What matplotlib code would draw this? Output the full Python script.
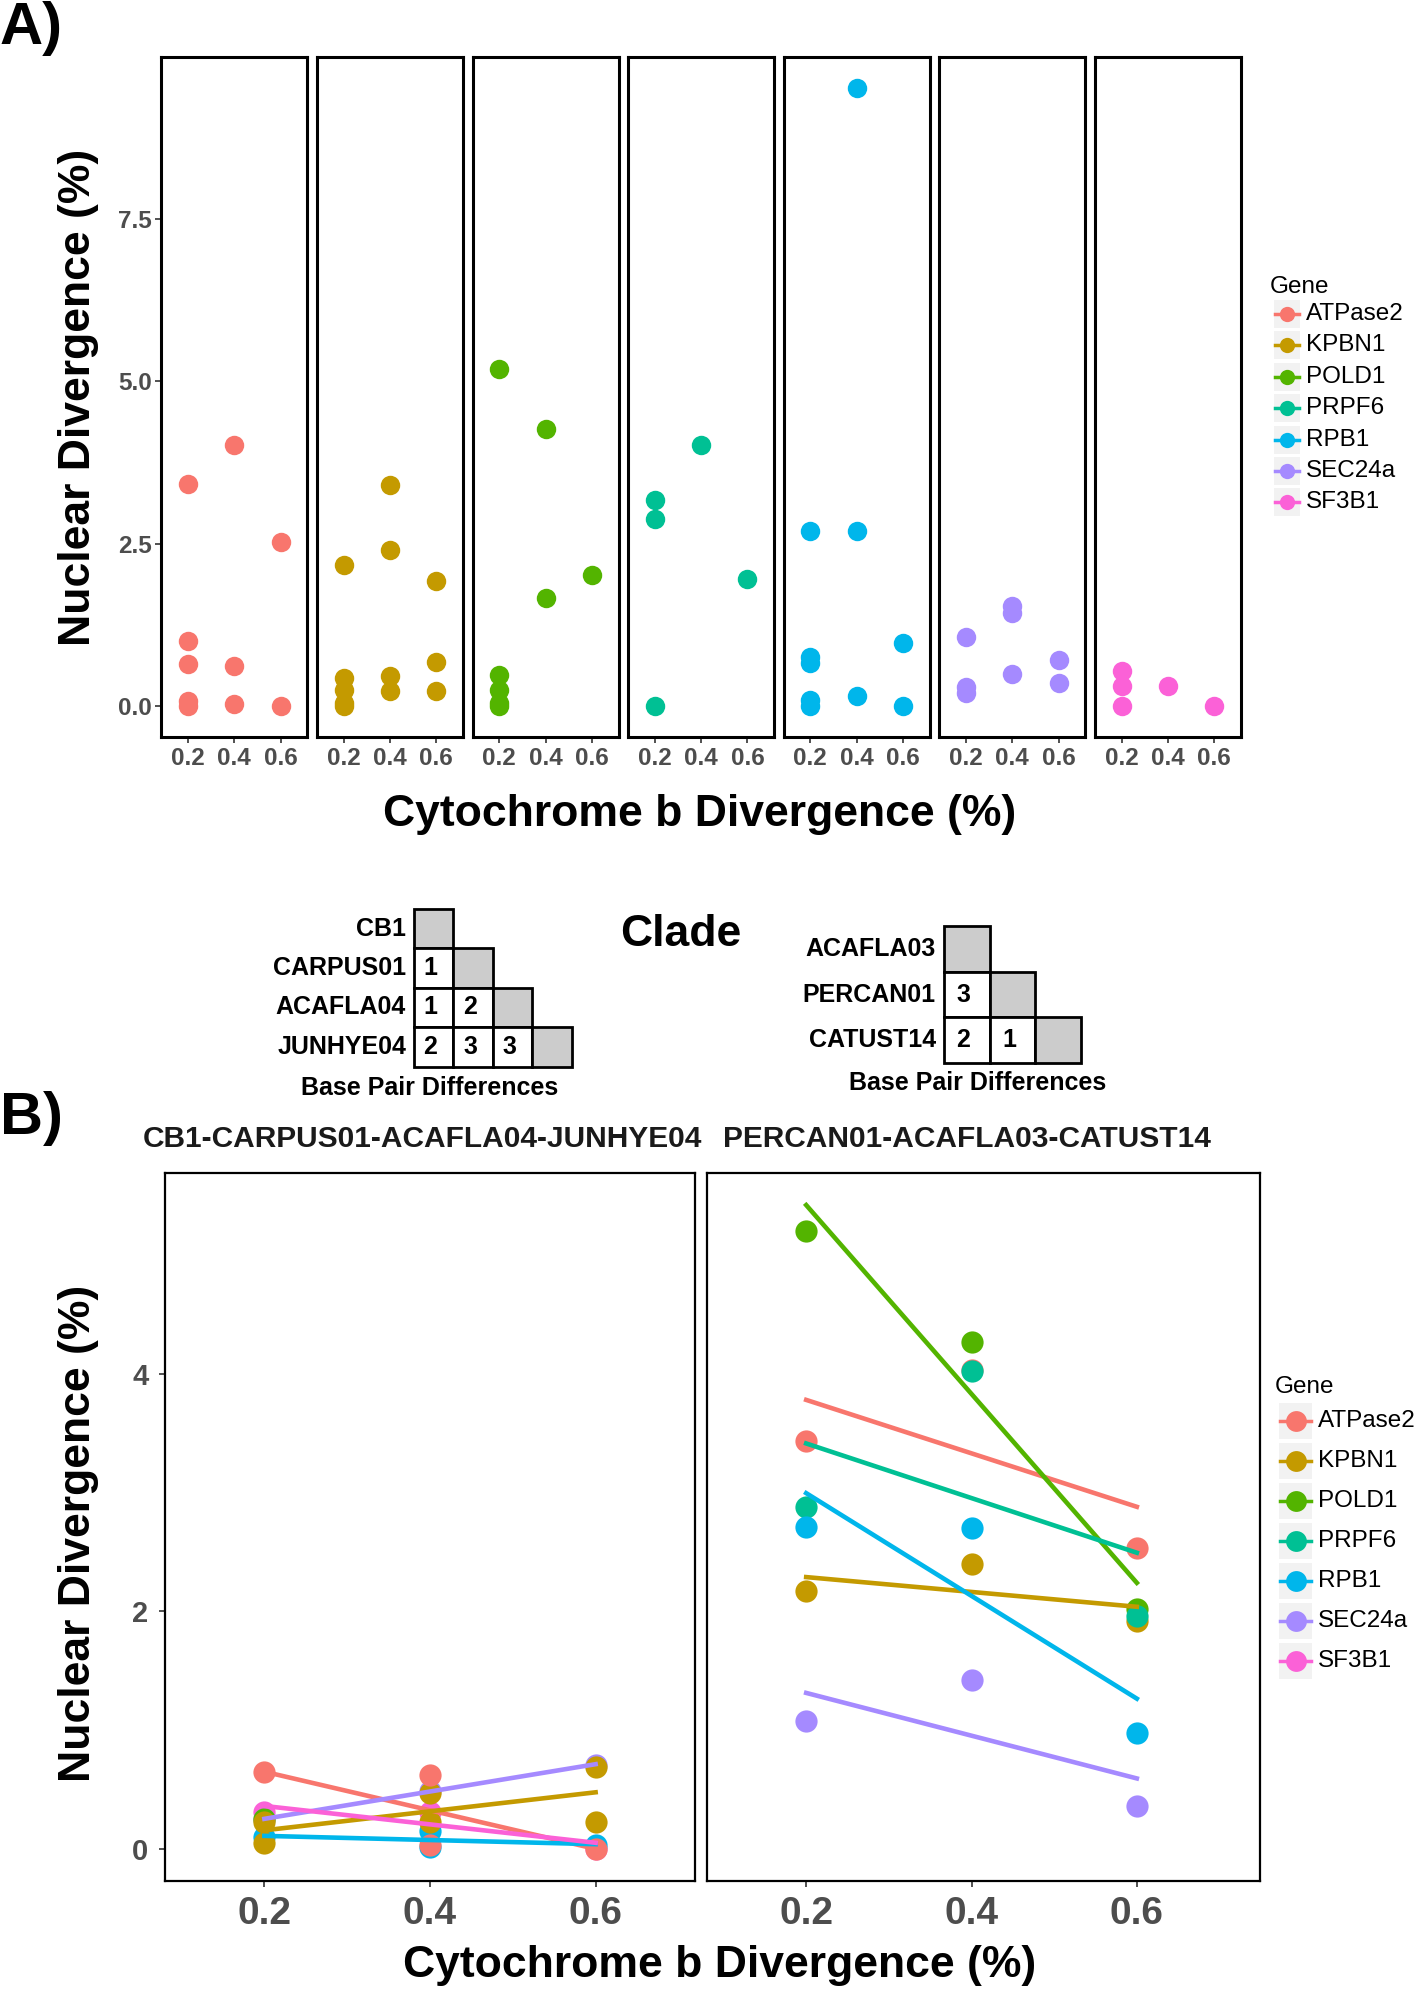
import numpy as np
import matplotlib
matplotlib.use("Agg")
import matplotlib.pyplot as plt
from matplotlib.patches import Rectangle

plt.rcParams['font.family'] = ['Liberation Sans', 'DejaVu Sans']

genes = ["ATPase2", "KPBN1", "POLD1", "PRPF6", "RPB1", "SEC24a", "SF3B1"]
colors = ["#F8766D", "#C49A00", "#53B400", "#00C094", "#00B6EB", "#A58AFF", "#FB61D7"]

# panel A: all pairwise comparisons, one facet per gene
a_x = {
    "ATPase2": [0.2, 0.2, 0.2, 0.2, 0.2, 0.4, 0.4, 0.4, 0.6, 0.6],
    "KPBN1":   [0.2, 0.2, 0.2, 0.2, 0.2, 0.4, 0.4, 0.4, 0.4, 0.6, 0.6, 0.6],
    "POLD1":   [0.2, 0.2, 0.2, 0.2, 0.2, 0.4, 0.4, 0.6],
    "PRPF6":   [0.2, 0.2, 0.2, 0.4, 0.6],
    "RPB1":    [0.2, 0.2, 0.2, 0.2, 0.2, 0.4, 0.4, 0.4, 0.6, 0.6],
    "SEC24a":  [0.2, 0.2, 0.2, 0.4, 0.4, 0.4, 0.6, 0.6],
    "SF3B1":   [0.2, 0.2, 0.2, 0.4, 0.6],
}
a_y = {
    "ATPase2": [3.42, 1.0, 0.65, 0.08, 0.0, 4.02, 0.62, 0.03, 2.53, 0.0],
    "KPBN1":   [2.17, 0.43, 0.25, 0.05, 0.0, 3.40, 2.40, 0.47, 0.23, 1.92, 0.68, 0.23],
    "POLD1":   [5.19, 0.48, 0.25, 0.05, 0.0, 4.27, 1.66, 2.02],
    "PRPF6":   [3.17, 2.88, 0.0, 4.02, 1.95],
    "RPB1":    [2.70, 0.76, 0.66, 0.10, 0.0, 9.51, 2.70, 0.15, 0.97, 0.0],
    "SEC24a":  [1.07, 0.29, 0.20, 1.54, 1.43, 0.49, 0.71, 0.36],
    "SF3B1":   [0.54, 0.31, 0.0, 0.31, 0.0],
}

# panel B: the two clades
clade_titles = ["CB1-CARPUS01-ACAFLA04-JUNHYE04", "PERCAN01-ACAFLA03-CATUST14"]
b1_x = {
    "ATPase2": [0.2, 0.4, 0.4, 0.6],
    "KPBN1":   [0.2, 0.2, 0.4, 0.4, 0.6, 0.6],
    "POLD1":   [0.2],
    "PRPF6":   [],
    "RPB1":    [0.2, 0.4, 0.4, 0.6],
    "SEC24a":  [0.2, 0.4, 0.6],
    "SF3B1":   [0.2, 0.4, 0.6],
}
b1_y = {
    "ATPase2": [0.65, 0.62, 0.03, 0.0],
    "KPBN1":   [0.23, 0.05, 0.47, 0.23, 0.69, 0.23],
    "POLD1":   [0.25],
    "PRPF6":   [],
    "RPB1":    [0.10, 0.15, 0.02, 0.03],
    "SEC24a":  [0.25, 0.49, 0.71],
    "SF3B1":   [0.31, 0.31, 0.0],
}
b2_x = {g: ([0.2, 0.4, 0.6] if g != "SF3B1" else []) for g in genes}
b2_y = {
    "ATPase2": [3.43, 4.03, 2.53],
    "KPBN1":   [2.17, 2.40, 1.92],
    "POLD1":   [5.20, 4.27, 2.02],
    "PRPF6":   [2.88, 4.02, 1.96],
    "RPB1":    [2.71, 2.70, 0.98],
    "SEC24a":  [1.08, 1.42, 0.36],
    "SF3B1":   [],
}

# base pair difference matrices
clade1_names = ["CB1", "CARPUS01", "ACAFLA04", "JUNHYE04"]
clade1_bp = [[], [1], [1, 2], [2, 3, 3]]
clade2_names = ["ACAFLA03", "PERCAN01", "CATUST14"]
clade2_bp = [[], [3], [2, 1]]

W, H = 1416, 1991
fig = plt.figure(figsize=(W / 100, H / 100), dpi=100)

ov = fig.add_axes([0, 0, 1, 1])
ov.set_xlim(0, W)
ov.set_ylim(H, 0)
ov.axis("off")


def add_ax(x0, y0, x1, y1):
    return fig.add_axes([x0 / W, 1 - y1 / H, (x1 - x0) / W, (y1 - y0) / H])


def style(ax, lw, size, pad):
    for s in ax.spines.values():
        s.set_linewidth(lw)
        s.set_color("black")
    ax.tick_params(length=4, width=1.2, color="#333333", labelsize=size,
                   labelcolor="#4D4D4D", pad=pad)
    for t in ax.get_xticklabels() + ax.get_yticklabels():
        t.set_fontweight("bold")


# ---- panel A
for i, g in enumerate(genes):
    left = 161.3 + i * 155.6
    ax = add_ax(left, 57, left + 146, 737)
    ax.plot(a_x[g], a_y[g], "o", ms=14, color=colors[i], mec="none")
    ax.set_xlim(0.085, 0.715)
    ax.set_ylim(-0.4755, 9.985)
    ax.set_xticks([0.2, 0.4, 0.6], ["0.2", "0.4", "0.6"])
    if i == 0:
        ax.set_yticks([0, 2.5, 5, 7.5], ["0.0", "2.5", "5.0", "7.5"])
    else:
        ax.set_yticks([])
    style(ax, 2.2, 17.5, 3)

fig.text(0 / W, 1 - 28 / H, "A)", fontsize=43, fontweight="bold", va="center")
fig.text(79 / W, 1 - 397 / H, "Nuclear Divergence (%)", fontsize=32,
         fontweight="bold", rotation=90, ha="center", va="center")
fig.text(700 / W, 1 - 814 / H, "Cytochrome b Divergence (%)", fontsize=32,
         fontweight="bold", ha="center", va="center")


def legend(x0, y0, dy, kw, kh, ms, tsize):
    ov.text(x0 - 4, y0 - dy * 0.85, "Gene", fontsize=tsize, va="center")
    for k, g in enumerate(genes):
        yc = y0 + k * dy
        ov.add_patch(Rectangle((x0, yc - kh / 2), kw, kh, facecolor="#F2F2F2",
                               edgecolor="none"))
        ov.plot([x0 + 1, x0 + kw - 1], [yc, yc], color=colors[k], lw=2.5)
        ov.plot([x0 + kw / 2], [yc], "o", ms=ms, color=colors[k], mec="none")
        ov.text(x0 + kw + 6, yc, g, fontsize=tsize, va="center")


legend(1274, 314, 31.4, 26, 28, 11, 17.5)

# ---- clade matrices


def matrix(names, bp, x0, y0, cell, lab_x, cap_x, cap_y):
    for r, name in enumerate(names):
        y = y0 + r * cell
        ov.text(lab_x, y + cell / 2, name, fontsize=18, fontweight="bold",
                ha="right", va="center")
        for c, v in enumerate(bp[r]):
            ov.add_patch(Rectangle((x0 + c * cell, y), cell, cell,
                                   facecolor="white", edgecolor="black", lw=2))
            ov.text(x0 + c * cell + cell * 0.42, y + cell / 2, str(v), fontsize=18,
                    fontweight="bold", ha="center", va="center")
        ov.add_patch(Rectangle((x0 + len(bp[r]) * cell, y), cell, cell,
                               facecolor="#CCCCCC", edgecolor="black", lw=2))
    ov.text(cap_x, cap_y, "Base Pair Differences", fontsize=18, fontweight="bold",
            ha="center", va="center")


matrix(clade1_names, clade1_bp, 414, 909, 39.4, 406, 430, 1088)
matrix(clade2_names, clade2_bp, 944, 926, 45.7, 936, 978, 1083)
ov.text(681, 935, "Clade", fontsize=32, fontweight="bold", ha="center", va="center")

# ---- panel B
fig.text(0 / W, 1 - 1119 / H, "B)", fontsize=43, fontweight="bold", va="center")
boxes = [(165, 695, 0.72), (707, 1260, 0.749)]
tcent = [422, 967]
for j, (bx, by) in enumerate([(b1_x, b1_y), (b2_x, b2_y)]):
    x0, x1, xmax = boxes[j]
    ax = add_ax(x0, 1173, x1, 1881)
    # left clade rows are stacked the other way round
    order = list(range(len(genes)))
    if j == 0:
        order = order[::-1]
    for k in order:
        g = genes[k]
        if bx[g]:
            ax.plot(bx[g], by[g], "o", ms=16, color=colors[k], mec="none", zorder=2)
    for k, g in enumerate(genes):
        if len(set(bx[g])) > 1:
            m, c = np.polyfit(bx[g], by[g], 1)
            xs = np.array([min(bx[g]), max(bx[g])])
            ax.plot(xs, m * xs + c, color=colors[k], lw=3.3, zorder=3)
    ax.set_xlim(0.08, xmax)
    ax.set_ylim(-0.27, 5.69)
    ax.set_xticks([0.2, 0.4, 0.6], ["0.2", "0.4", "0.6"])
    if j == 0:
        ax.set_yticks([0, 2, 4], ["0", "2", "4"])
    else:
        ax.set_yticks([])
    style(ax, 1.6, 21, 8)
    ax.tick_params(axis="x", labelsize=28, pad=7)
    fig.text(tcent[j] / W, 1 - 1139 / H, clade_titles[j], fontsize=21.5,
             fontweight="bold", ha="center", va="center", color="#1A1A1A")

fig.text(79 / W, 1 - 1533 / H, "Nuclear Divergence (%)", fontsize=32,
         fontweight="bold", rotation=90, ha="center", va="center")
fig.text(720 / W, 1 - 1966 / H, "Cytochrome b Divergence (%)", fontsize=32,
         fontweight="bold", ha="center", va="center")

legend(1279, 1421, 40, 33, 36, 15, 17.5)

plt.savefig("out.png", dpi=100)
